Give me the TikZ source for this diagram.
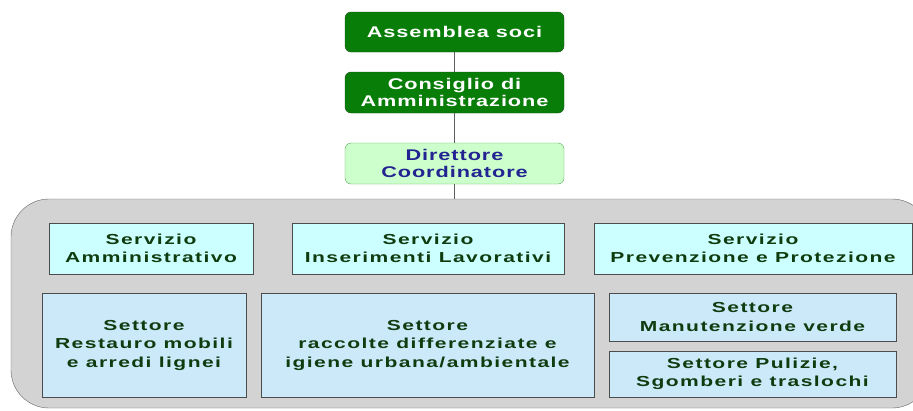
\documentclass[tikz,border=0pt]{standalone}
\usepackage{fontspec}
\usepackage{xcolor}
\setmainfont{Liberation Sans}
\newfontfamily\boardfont{Liberation Sans}[FakeStretch=1.4,LetterSpace=6]
\newfontfamily\unitfont{Liberation Sans}[FakeStretch=1.45,LetterSpace=10]
\definecolor{boardgreen}{RGB}{8,125,8}
\definecolor{boardedge}{RGB}{20,80,20}
\definecolor{dirfill}{RGB}{204,255,204}
\definecolor{dirtext}{RGB}{35,35,145}
\definecolor{areagray}{RGB}{211,211,211}
\definecolor{srvfill}{RGB}{204,255,255}
\definecolor{setfill}{RGB}{204,233,250}
\definecolor{unittext}{RGB}{15,60,15}
\definecolor{linkgray}{RGB}{95,95,95}

\begin{document}
\begin{tikzpicture}[x=1pt,y=-1pt,
    board/.style={draw=boardedge,fill=boardgreen,text=white,rounded corners=6pt,
      minimum width=219pt,minimum height=40pt,inner sep=0pt,align=center,
      font=\boardfont\fontsize{15.5}{17.5}\selectfont\bfseries},
    director/.style={board,draw=gray!70!green,fill=dirfill,text=dirtext},
    unit/.style={draw=black!70,line width=0.6pt,text=unittext,inner sep=0pt,align=center,
      font=\unitfont\fontsize{14.5}{18.5}\selectfont\bfseries},
    service/.style={unit,fill=srvfill,minimum height=51pt},
    sector/.style={unit,fill=setfill},
    link/.style={draw=linkgray,line width=1.5pt}]
    \useasboundingbox (0,0) rectangle (913,410);
    % grey area with all services and sectors
    \node (area) [draw=black!60,fill=areagray,rounded corners=38pt,
      minimum width=919pt,minimum height=209pt] at (470.5,303.5) {};
    % top of the chart
    \node (assemblea) [board] at (454.5,32) {Assemblea soci};
    \node (consiglio) [board,minimum height=41pt] at (454.5,92.5) {Consiglio di\\Amministrazione};
    \node (direttore) [director,minimum height=41pt] at (454.5,163.5) {Direttore\\Coordinatore};
    \draw[link] (assemblea) -- (consiglio);
    \draw[link] (consiglio) -- (direttore);
    \draw[link] (direttore.south) -- (direttore.south |- area.north);
    % services
    \node (srvamm) [service,minimum width=204pt] at (151,248.5) {Servizio\\Amministrativo};
    \node (srvins) [service,minimum width=272pt] at (428,248.5) {Servizio\\Inserimenti Lavorativi};
    \node (srvprev) [service,minimum width=318pt] at (753,248.5) {Servizio\\Prevenzione e Protezione};
    % sectors
    \node (setrest) [sector,minimum width=204pt,minimum height=104pt] at (144,345) {Settore\\Restauro mobili\\e arredi lignei};
    \node (setracc) [sector,minimum width=333pt,minimum height=104pt] at (427.5,345) {Settore\\raccolte differenziate e\\igiene urbana/ambientale};
    \node (setman) [sector,minimum width=287pt,minimum height=48pt] at (752.5,317) {Settore\\Manutenzione verde};
    \node (setpul) [sector,minimum width=287pt,minimum height=46pt] at (752.5,374) {Settore Pulizie,\\Sgomberi e traslochi};
\end{tikzpicture}
\end{document}
